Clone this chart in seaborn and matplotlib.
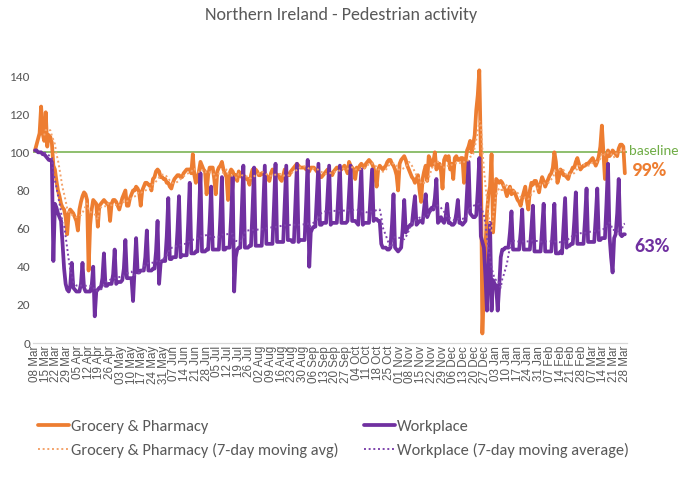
import numpy as np
import pandas as pd
import matplotlib
matplotlib.use("Agg")
import matplotlib.pyplot as plt
from matplotlib import font_manager
import seaborn as sns
from matplotlib.lines import Line2D

# ---------------- data ----------------
start_date = "2020-03-08"

grocery = (
    [101, 104, 107, 110, 124, 110, 106, 121, 103, 109, 108, 105, 93, 91, 85, 80]
    + [77, 73, 71, 70, 66, 57, 68, 70, 69, 68, 66, 64, 59, 70, 74]
    + [77, 79, 78, 75, 38, 62, 70, 75, 74, 73, 61, 72, 73, 74, 75]
    + [74, 73, 73, 64, 73, 75, 75, 74, 72, 70, 73, 76, 78, 80, 72]
    + [72, 76, 78, 80, 80, 82, 81, 79, 72, 80, 82, 84, 84, 83, 83]
    + [80, 86, 87, 90, 91, 90, 87, 87, 86, 86, 84, 84, 82, 81, 84]
    + [86, 87, 88, 88, 87, 87, 89, 90, 91, 91, 91, 89, 99, 88, 84]
    + [87, 90, 95, 93, 91, 90, 78, 88, 92, 92, 92, 86, 78, 90, 92]
    + [93, 95, 91, 89, 87, 75, 89, 91, 90, 88, 88, 85, 90, 88, 87]
    + [88, 87, 86, 86, 83, 88, 91, 91, 91, 90, 88, 88, 89, 89, 88]
    + [88, 86, 85, 89, 91, 90, 89, 88, 88, 86, 85, 88, 91, 90, 88]
    + [88, 90, 91, 92, 93, 94, 93, 92, 92, 92, 92, 91, 91, 90, 92]
    + [92, 92, 91, 90, 89, 87, 87, 88, 89, 90, 91, 90, 89, 88, 90]
    + [91, 92, 92, 91, 91, 92, 93, 91, 89, 95, 93, 92, 91, 86, 92]
    + [91, 93, 94, 93, 92, 94, 95, 96, 95, 94, 92, 88, 82, 91, 93]
    + [92, 91, 92, 93, 95, 96, 96, 94, 93, 91, 88, 80, 94, 96, 97]
    + [98, 96, 93, 91, 89, 87, 86, 84, 86, 88, 80, 74, 86, 90, 93]
    + [85, 98, 96, 93, 95, 100, 91, 93, 94, 90, 81, 96, 98, 96, 98]
    + [91, 94, 86, 97, 98, 96, 96, 97, 97, 84, 95, 101, 103, 106, 100]
    + [104, 109, 122, 130, 143, 100, 5, 30, 50, 68, 78, 82, 99, 58, 72]
    + [86, 85, 84, 85, 84, 82, 80, 77, 80, 82, 78, 80, 79, 77, 75]
    + [74, 72, 76, 79, 82, 75, 70, 80, 84, 83, 85, 85, 82, 79, 84]
    + [87, 85, 82, 84, 86, 88, 89, 92, 100, 95, 84, 87, 91, 90, 88]
    + [88, 87, 86, 89, 90, 92, 92, 95, 97, 94, 91, 92, 93, 93, 94]
    + [94, 95, 96, 97, 95, 93, 95, 98, 103, 114, 100, 86, 97, 101, 98]
    + [99, 101, 100, 99, 98, 102, 104, 104, 103, 89]
)

workplace = (
    [101, 101, 100, 100]
    + [100, 99, 99, 98, 97, 96, 96]
    + [95, 43, 73, 71, 68, 66, 64]
    + [52, 39, 31, 28, 27, 30, 42]
    + [29, 28, 27, 27, 27, 31, 42]
    + [29, 27, 27, 27, 27, 30, 40]
    + [14, 27, 28, 29, 29, 34, 47]
    + [30, 30, 31, 31, 31, 36, 49]
    + [31, 32, 32, 32, 33, 39, 54]
    + [34, 34, 34, 34, 22, 38, 55]
    + [37, 37, 38, 38, 38, 45, 59]
    + [38, 38, 38, 39, 39, 48, 64]
    + [31, 42, 43, 43, 43, 56, 76]
    + [44, 44, 45, 45, 45, 59, 77]
    + [45, 46, 46, 46, 46, 63, 84]
    + [47, 47, 47, 48, 48, 66, 89]
    + [48, 48, 48, 49, 49, 63, 82]
    + [49, 49, 49, 49, 49, 66, 87]
    + [49, 49, 50, 50, 50, 66, 87]
    + [27, 45, 49, 50, 50, 70, 93]
    + [50, 50, 50, 51, 51, 70, 92]
    + [51, 51, 51, 51, 51, 72, 93]
    + [52, 52, 52, 52, 52, 72, 94]
    + [53, 53, 53, 53, 53, 73, 93]
    + [54, 54, 54, 53, 53, 73, 94]
    + [53, 54, 54, 54, 54, 74, 96]
    + [40, 58, 60, 61, 61, 77, 94]
    + [62, 62, 63, 63, 63, 78, 93]
    + [62, 63, 63, 63, 63, 78, 93]
    + [63, 63, 63, 63, 64, 78, 93]
    + [64, 64, 64, 63, 62, 76, 91]
    + [62, 63, 63, 63, 63, 77, 91]
    + [64, 65, 65, 64, 64, 52, 50]
    + [50, 50, 49, 49, 50, 62, 78]
    + [50, 49, 48, 49, 50, 60, 75]
    + [58, 60, 61, 62, 62, 70, 77]
    + [62, 63, 64, 64, 63, 71, 78]
    + [66, 68, 70, 71, 70, 76, 86]
    + [63, 64, 66, 64, 63, 66, 73]
    + [63, 63, 62, 62, 63, 68, 75]
    + [63, 63, 62, 63, 64, 80, 95]
    + [68, 67, 66, 66, 67, 80, 97]
    + [56, 53, 50, 35, 17, 40, 63]
    + [17, 33, 31, 30, 17, 30, 45]
    + [49, 49, 50, 50, 50, 58, 69]
    + [49, 49, 49, 49, 49, 58, 70]
    + [49, 49, 49, 49, 49, 60, 72]
    + [48, 48, 48, 48, 48, 60, 73]
    + [48, 48, 48, 48, 48, 60, 73]
    + [47, 47, 47, 48, 47, 62, 76]
    + [50, 51, 51, 52, 52, 64, 79]
    + [52, 52, 52, 52, 52, 65, 81]
    + [53, 53, 53, 53, 53, 66, 81]
    + [54, 54, 55, 55, 55, 73, 94]
    + [56, 45, 37, 55, 57, 68, 86]
    + [57, 56, 57, 57]
)

baseline_value = 100
y_ticks = [0, 20, 40, 60, 80, 100, 120, 140]
title = "Northern Ireland - Pedestrian activity"
series_labels = ["Grocery & Pharmacy", "Workplace",
                 "Grocery & Pharmacy (7-day moving avg)",
                 "Workplace (7-day moving average)"]
baseline_label = "baseline"
end_labels = ["99%", "63%"]

# ---------------- style ----------------
ORANGE = "#ED7D31"
PURPLE = "#7030A0"
GREEN = "#70AD47"
GREY = "#595959"
ORANGE_MA = "#F4A36B"
PURPLE_MA = "#7E44AC"

sns.set_theme(style="white")
installed = {f.name for f in font_manager.fontManager.ttflist}
main_font = "Carlito" if "Carlito" in installed else "Lato"
plt.rcParams["font.family"] = [main_font, "DejaVu Sans"]
scale = 1.12 if main_font == "Carlito" else 1.0

n = min(len(grocery), len(workplace))
dates = pd.date_range(start_date, periods=n, freq="D")
df = pd.DataFrame({"date": dates,
                   "grocery": grocery[:n],
                   "workplace": workplace[:n]})
df["grocery_ma"] = df["grocery"].rolling(7).mean()
df["workplace_ma"] = df["workplace"].rolling(7).mean()

W, H = 683, 497
fig = plt.figure(figsize=(W / 100, H / 100), dpi=100)
ax = fig.add_axes([33 / W, 1 - 343 / H, (627 - 33) / W, (343 - 66.5) / H])

ax.axhline(baseline_value, color=GREEN, lw=1.1, zorder=1)
sns.lineplot(data=df, x="date", y="grocery", color=ORANGE, lw=2.7, ax=ax, zorder=2)
sns.lineplot(data=df, x="date", y="workplace", color=PURPLE, lw=2.7, ax=ax, zorder=3)
dot = (0, (1.0, 1.4))
sns.lineplot(data=df, x="date", y="grocery_ma", color=ORANGE_MA, lw=1.4,
             linestyle=dot, ax=ax, zorder=4)
sns.lineplot(data=df, x="date", y="workplace_ma", color=PURPLE_MA, lw=1.4,
             linestyle=dot, ax=ax, zorder=5)

ax.set_ylim(0, 145)
ax.set_yticks(y_ticks)
ax.set_yticklabels([str(v) for v in y_ticks], color=GREY, fontsize=8.5 * scale)

d0 = dates[0]
ax.set_xlim(d0 - pd.Timedelta(days=1.3), d0 + pd.Timedelta(days=386.4))
xt = pd.date_range(start_date, dates[-1], freq="7D")
ax.set_xticks(xt)
ax.set_xticklabels([d.strftime("%d %b") for d in xt], rotation=90,
                   color=GREY, fontsize=8.4, family=["Liberation Sans", "DejaVu Sans"])
ax.tick_params(axis="both", length=0, pad=2)
ax.set_xlabel("")
ax.set_ylabel("")
for s in ["left", "top", "right"]:
    ax.spines[s].set_visible(False)
ax.spines["bottom"].set_color("#D9D9D9")
ax.spines["bottom"].set_linewidth(0.9)
ax.grid(False)

fig.text(0.5, 1 - 15 / H, title, ha="center", va="center", fontsize=11.6 * scale, color=GREY)
fig.text(629 / W, 1 - 151 / H, baseline_label, ha="left", va="center",
         fontsize=9.5 * scale, color=GREEN)
fig.text(632 / W, 1 - 170 / H, end_labels[0], ha="left", va="center",
         fontsize=13 * scale, fontweight="bold", color=ORANGE)
fig.text(634 / W, 1 - 246 / H, end_labels[1], ha="left", va="center",
         fontsize=13 * scale, fontweight="bold", color=PURPLE)

handles = [
    Line2D([], [], color=ORANGE, lw=2.7),
    Line2D([], [], color=ORANGE_MA, lw=1.4, linestyle=dot),
    Line2D([], [], color=PURPLE, lw=2.7),
    Line2D([], [], color=PURPLE_MA, lw=1.4, linestyle=dot),
]
labels = [series_labels[0], series_labels[2], series_labels[1], series_labels[3]]
leg_fs = 10.5 * scale
leg = fig.legend(handles, labels, ncol=2, loc="upper left",
                 bbox_to_anchor=(31 / W, 1 - 413 / H), frameon=False,
                 fontsize=leg_fs, handlelength=1.9, handletextpad=0.12,
                 columnspacing=1.6, labelspacing=0.52, borderaxespad=0)
for t in leg.get_texts():
    t.set_color(GREY)

fig.savefig("out.png", dpi=100)
